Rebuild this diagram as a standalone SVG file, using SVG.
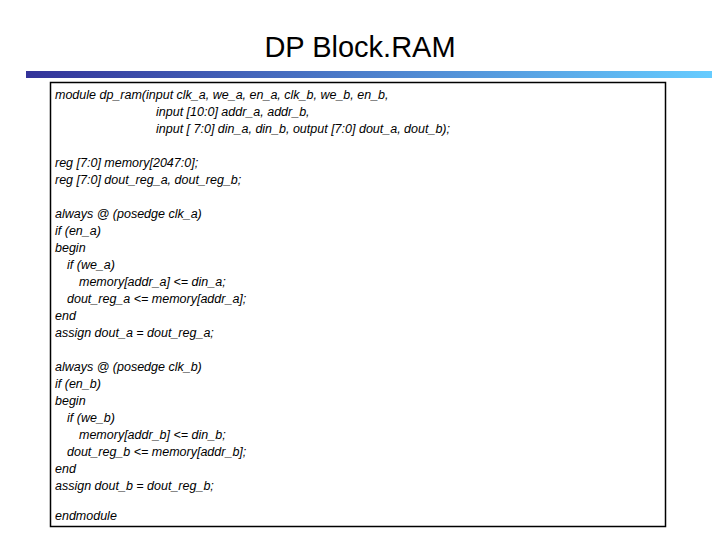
<svg xmlns="http://www.w3.org/2000/svg" width="720" height="540" viewBox="0 0 720 540">
<defs>
<linearGradient id="bar" x1="0" x2="1" y1="0" y2="0"><stop offset="0" stop-color="#333399"/><stop offset="1" stop-color="#66ccff"/></linearGradient>
<style>
.c{font-family:"Liberation Sans",Arial,sans-serif;font-style:italic;font-size:12.5px;fill:#000;}
.t{font-family:"Liberation Sans",Arial,sans-serif;font-size:29px;fill:#000;text-anchor:middle;}
</style>
</defs>
<rect width="720" height="540" fill="#fff"/>
<text class="t" x="360" y="57">DP Block.RAM</text>
<rect x="26" y="71" width="686" height="7" fill="url(#bar)"/>
<g id="code">
<rect x="50.5" y="82.5" width="615" height="444" fill="#fff" stroke="#000" stroke-width="1.5"/>
<text class="c" x="55" y="99">module dp_ram(input clk_a, we_a, en_a, clk_b, we_b, en_b,</text>
<text class="c" x="156" y="116">input [10:0] addr_a, addr_b,</text>
<text class="c" x="156" y="133">input [ 7:0] din_a, din_b, output [7:0] dout_a, dout_b);</text>
<text class="c" x="55" y="167">reg [7:0] memory[2047:0];</text>
<text class="c" x="55" y="184">reg [7:0] dout_reg_a, dout_reg_b;</text>
<text class="c" x="55" y="218">always @ (posedge clk_a)</text>
<text class="c" x="55" y="235">if (en_a)</text>
<text class="c" x="55" y="252">begin</text>
<text class="c" x="67" y="269">if (we_a)</text>
<text class="c" x="79" y="286">memory[addr_a] &lt;= din_a;</text>
<text class="c" x="67" y="303">dout_reg_a &lt;= memory[addr_a];</text>
<text class="c" x="55" y="320">end</text>
<text class="c" x="55" y="337">assign dout_a = dout_reg_a;</text>
<text class="c" x="55" y="371">always @ (posedge clk_b)</text>
<text class="c" x="55" y="388">if (en_b)</text>
<text class="c" x="55" y="405">begin</text>
<text class="c" x="67" y="422">if (we_b)</text>
<text class="c" x="79" y="439">memory[addr_b] &lt;= din_b;</text>
<text class="c" x="67" y="456">dout_reg_b &lt;= memory[addr_b];</text>
<text class="c" x="55" y="473">end</text>
<text class="c" x="55" y="490">assign dout_b = dout_reg_b;</text>
<text class="c" x="55" y="520">endmodule</text>
</g>
</svg>
